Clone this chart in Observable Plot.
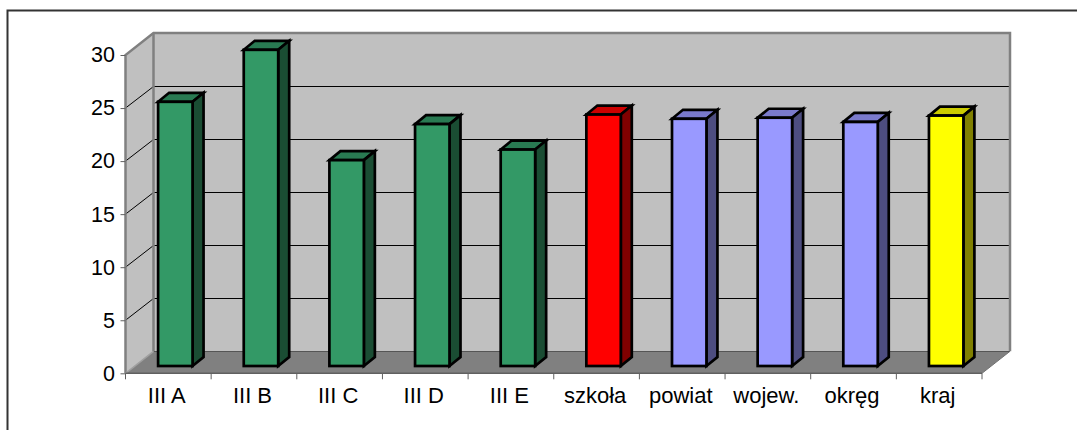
<!DOCTYPE html>
<html><head><meta charset="utf-8">
<style>html,body{margin:0;padding:0;background:#fff;overflow:hidden}</style>
<script src="https://cdn.jsdelivr.net/npm/d3@7"></script>
<script src="https://cdn.jsdelivr.net/npm/@observablehq/plot@0.6"></script>
</head><body>
<div id="chart"></div>
<script>
const categories = ["III A","III B","III C","III D","III E","szkoła","powiat","wojew.","okręg","kraj"];
const values = [24.9,29.8,19.4,22.8,20.4,23.7,23.3,23.4,23.0,23.6];
const frontColors = ["#339966","#339966","#339966","#339966","#339966","#ff0000","#9999ff","#9999ff","#9999ff","#ffff00"];
const topColors = ["#297a52","#297a52","#297a52","#297a52","#297a52","#cc0000","#7a7acc","#7a7acc","#7a7acc","#cccc00"];
const sideColors = ["#1a4d33","#1a4d33","#1a4d33","#1a4d33","#1a4d33","#800000","#4d4d80","#4d4d80","#4d4d80","#808000"];
const yTicks = [0,5,10,15,20,25,30];
const rows = categories.map((c,i)=>({c,v:values[i],front:frontColors[i],top:topColors[i],side:sideColors[i]}));

const wallDX = 28, wallDY = -22, barInset = 25.6, barDX = 7, barDY = -7.3, depthDX = 11, depthDY = -9, barStroke = 2.7;
const svgNS = "http://www.w3.org/2000/svg";
function shape(g, d, fill, stroke, sw){
  const p = document.createElementNS(svgNS,"path");
  p.setAttribute("d",d); p.setAttribute("fill",fill||"none");
  if(stroke){p.setAttribute("stroke",stroke);p.setAttribute("stroke-width",sw);}
  p.setAttribute("stroke-linejoin","miter");
  g.appendChild(p);
}
const poly = pts => "M"+pts.map(p=>p.join(",")).join("L")+"Z";
const line = pts => "M"+pts.map(p=>p.join(",")).join("L");
const bw = x => typeof x.bandwidth === "function" ? x.bandwidth() : x.bandwidth;
const snap = v => Math.floor(v)+0.5;

// walls, floor, gridlines, frame
function walls(index, {x, y}, values_, {width, height}){
  const g = document.createElementNS(svgNS,"g");
  const x0 = x(categories[0]), x1 = x(categories[categories.length-1]) + bw(x);
  const y0 = y(0), y1 = y(30);
  shape(g, `M7.5,${height+5}V10.5H${width+5}`, "none", "#333", 2);
  shape(g, poly([[x0,y0],[x0,y1],[x0+wallDX,y1+wallDY],[x0+wallDX,y0+wallDY]]), "#c0c0c0");
  shape(g, poly([[x0+wallDX,y0+wallDY],[x0+wallDX,y1+wallDY],[x1+wallDX,y1+wallDY],[x1+wallDX,y0+wallDY]]), "#c0c0c0");
  shape(g, poly([[x0,y0],[x1,y0],[x1+wallDX,y0+wallDY],[x0+wallDX,y0+wallDY]]), "#808080");
  for(const t of yTicks.slice(1,-1)){
    const yf = y(t), yb = snap(yf+wallDY);
    shape(g, line([[x0,yf],[x0+wallDX,yb],[x1+wallDX,yb]]), "none", "#000", 1);
  }
  shape(g, line([[x0,y0],[x0,y1],[x0+wallDX,y1+wallDY],[x1+wallDX,y1+wallDY],[x1+wallDX,y0+wallDY]]), "none", "#808080", 2.5);
  shape(g, line([[x0+wallDX,y1+wallDY],[x0+wallDX,y0+wallDY]]), "none", "#808080", 2.5);
  shape(g, line([[x0+wallDX,snap(y0+wallDY)],[x1+wallDX,snap(y0+wallDY)]]), "none", "#555", 1);
  shape(g, line([[x0,y0],[x0+wallDX,y0+wallDY]]), "none", "#a0a0a0", 1.5);
  shape(g, line([[x1,y0],[x1+wallDX,y0+wallDY]]), "none", "#707070", 1);
  shape(g, line([[x0,y0],[x1,y0]]), "none", "#606060", 1.5);
  for(const c of categories) shape(g, line([[x(c),y0],[x(c),y0+6]]), "none", "#606060", 1);
  shape(g, line([[x1,y0],[x1,y0+6]]), "none", "#606060", 1);
  return g;
}

// top and side faces of each bar
function faces(index, {x, y}){
  const g = document.createElementNS(svgNS,"g");
  for(const i of index){
    const r = rows[i];
    const l = x(r.c)+barInset+barDX, rt = x(r.c)+bw(x)-barInset+barDX;
    const t = y(r.v)+barDY, b = y(0)+barDY;
    shape(g, poly([[l,t],[rt,t],[rt+depthDX,t+depthDY],[l+depthDX,t+depthDY]]), r.top, "#000", barStroke);
    shape(g, poly([[rt,t],[rt,b],[rt+depthDX,b+depthDY],[rt+depthDX,t+depthDY]]), r.side, "#000", barStroke);
  }
  return g;
}

const chart = Plot.plot({
  width:1077, height:430,
  marginLeft:125.5, marginRight:95, marginTop:55, marginBottom:56.7,
  style:{fontFamily:"'Liberation Sans',Arial,sans-serif",background:"#fff",color:"#000"},
  x:{type:"band",domain:categories,padding:0,round:false,label:null},
  y:{domain:[0,30],label:null},
  marks:[
    walls,
    Plot.axisY({ticks:yTicks,tickSize:5,tickPadding:6,fontSize:21.5,label:null,stroke:"#606060",fill:"#000"}),
    Plot.axisX({tickSize:0,tickPadding:14,fontSize:22,dx:-2,label:null,fill:"#000"}),
    Plot.dot(rows,{x:"c",y:"v",r:0,render:faces}),
    Plot.barY(rows,{x:"c",y:"v",fill:"front",stroke:"#000",strokeWidth:barStroke,insetLeft:barInset,insetRight:barInset,dx:barDX,dy:barDY})
  ]
});
document.getElementById("chart").appendChild(chart);
</script>
</body></html>
